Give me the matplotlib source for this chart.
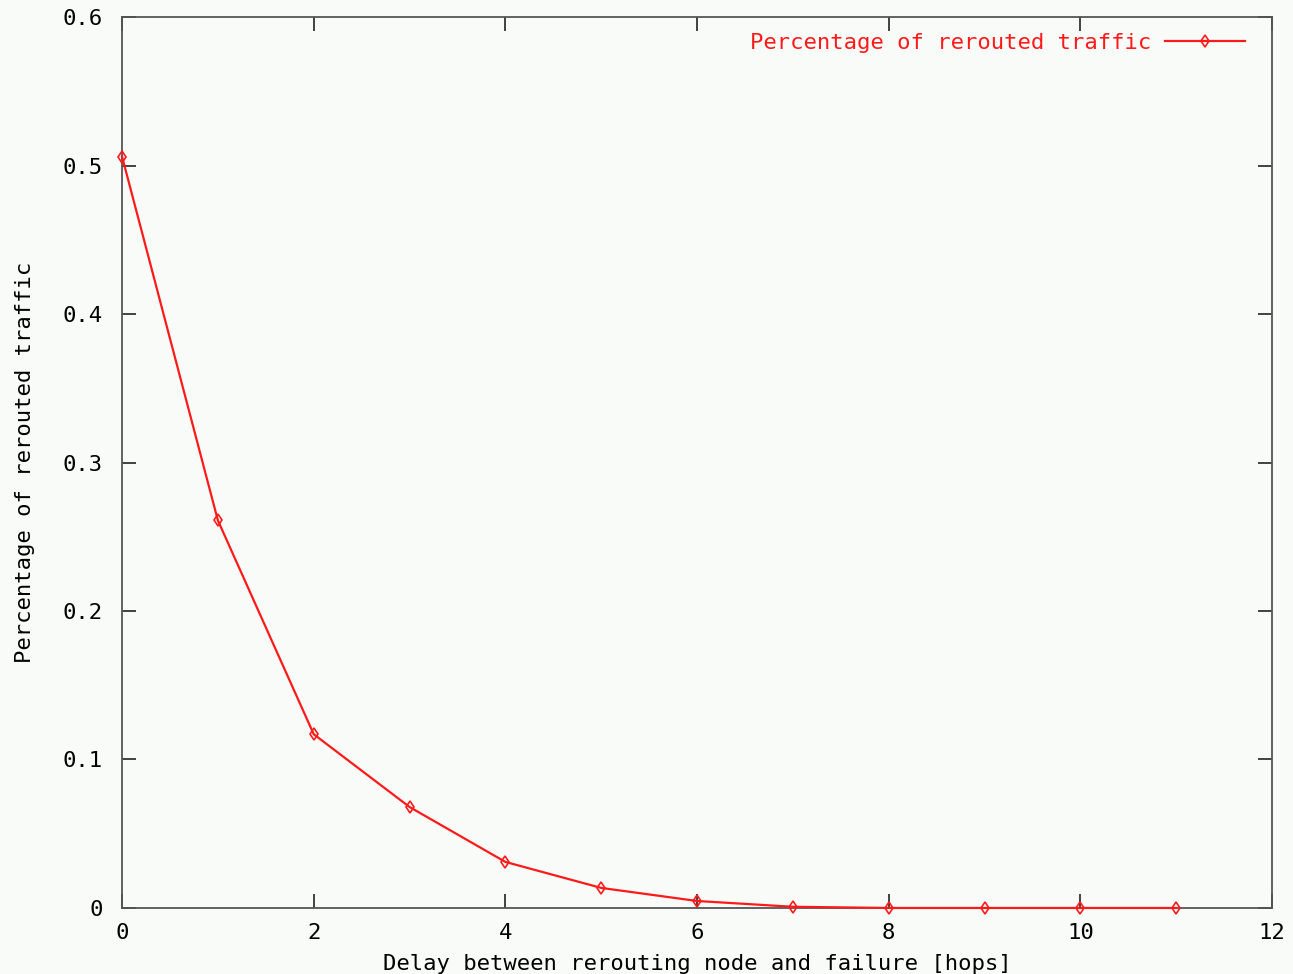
import matplotlib
matplotlib.use("Agg")
import matplotlib.pyplot as plt

# Data
hops = [0, 1, 2, 3, 4, 5, 6, 7, 8, 9, 10, 11]
rerouted = [0.506, 0.261, 0.117, 0.068, 0.031, 0.0135, 0.0047, 0.0008, 0.0, 0.0, 0.0, 0.0]

x_ticks = [0, 2, 4, 6, 8, 10, 12]
y_ticks = [0, 0.1, 0.2, 0.3, 0.4, 0.5, 0.6]
y_tick_labels = ["0", "0.1", "0.2", "0.3", "0.4", "0.5", "0.6"]

BG = "#f9fbf9"
RED = "#ff1a1a"
FONT = "DejaVu Sans Mono"
FS = 16

fig = plt.figure(figsize=(12.93, 9.74), dpi=100, facecolor=BG)
ax = fig.add_axes([0.0944, 0.0678, 0.8894, 0.9147], facecolor=BG)

ax.plot(hops, rerouted, color=RED, linewidth=1.6, marker="d", markersize=6,
        markerfacecolor="none", markeredgecolor=RED, markeredgewidth=1.2,
        label="Percentage of rerouted traffic", clip_on=False, zorder=3)

ax.set_xlim(0, 12)
ax.set_ylim(0, 0.6)
ax.set_xticks(x_ticks)
ax.set_xticklabels([str(t) for t in x_ticks])
ax.set_yticks(y_ticks)
ax.set_yticklabels(y_tick_labels)
ax.tick_params(direction="in", length=10, width=1.2, color="#222222",
               top=True, right=True, labelsize=FS)
ax.tick_params(axis="y", pad=14)
ax.tick_params(axis="x", pad=11)
for lab in ax.get_xticklabels() + ax.get_yticklabels():
    lab.set_fontfamily(FONT)

for s in ax.spines.values():
    s.set_color("#555555")
    s.set_linewidth(1.3)

ax.set_xlabel("Delay between rerouting node and failure [hops]",
              fontsize=FS, family=FONT, labelpad=8)
ax.set_ylabel("Percentage of rerouted traffic",
              fontsize=FS, family=FONT, labelpad=20)

leg = ax.legend(loc="upper right", frameon=False, markerfirst=False,
                prop={"family": FONT, "size": FS}, handlelength=3.6,
                handletextpad=0.6, borderaxespad=0.3,
                bbox_to_anchor=(0.99, 1.0))
for t in leg.get_texts():
    t.set_color(RED)

fig.savefig("out.png", dpi=100, facecolor=BG)
